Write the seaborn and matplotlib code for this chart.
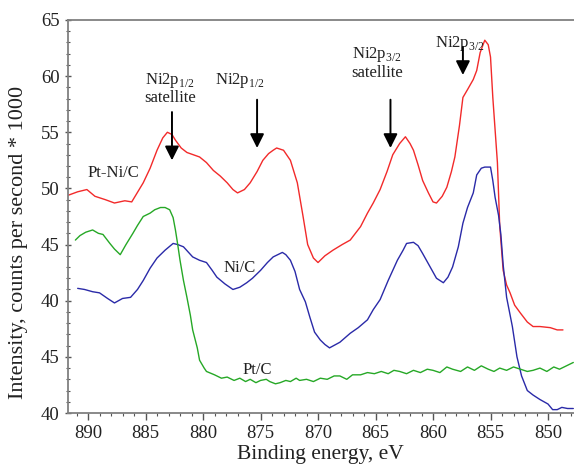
import matplotlib
matplotlib.use('Agg')
import matplotlib.pyplot as plt
import seaborn as sns
import pandas as pd
from matplotlib.ticker import MultipleLocator

# binding energy (eV) and intensity (plotted in the chart's stacked units)
ptni_ev = [891.7, 890.9, 890.1, 889.4, 888.5, 887.7, 886.8, 886.2, 885.2, 884.6, 884.0, 883.5,
           883.1, 882.7, 882.4, 881.9, 881.4, 880.3, 879.7, 879.1, 878.5, 877.9, 877.4, 877.0,
           876.4, 875.9, 875.3, 874.8, 874.3, 873.9, 873.6, 873.0, 872.4, 871.8, 871.3, 870.9,
           870.4, 870.0, 869.4, 868.7, 867.9, 867.2, 866.3, 865.7, 865.2, 864.6, 864.0, 863.5,
           862.9, 862.4, 862.0, 861.7, 861.3, 860.9, 860.4, 860.0, 859.7, 859.2, 858.8, 858.4,
           858.1, 857.7, 857.4, 857.0, 856.5, 856.2, 855.9, 855.5, 855.2, 855.0, 854.8, 854.4,
           854.2, 853.9, 853.6, 853.3, 852.9, 852.4, 851.8, 851.3, 850.7, 849.8, 849.2, 848.7]
ptni_int = [49.4, 49.7, 49.9, 49.3, 49.0, 48.7, 48.9, 48.8, 50.5, 51.8, 53.4, 54.5,
            55.0, 54.8, 54.3, 53.6, 53.2, 52.8, 52.3, 51.6, 51.1, 50.5, 49.9, 49.6,
            49.9, 50.5, 51.5, 52.5, 53.1, 53.4, 53.6, 53.4, 52.5, 50.5, 47.5, 45.0,
            43.8, 43.4, 44.0, 44.5, 45.0, 45.4, 46.6, 47.8, 48.7, 49.9, 51.5, 53.0,
            54.0, 54.6, 54.0, 53.4, 52.1, 50.7, 49.6, 48.8, 48.7, 49.3, 50.1, 51.5,
            52.8, 55.6, 58.1, 58.8, 59.7, 60.5, 62.1, 63.2, 62.8, 61.7, 58.1, 52.3,
            46.7, 42.7, 41.4, 40.7, 39.6, 38.9, 38.1, 37.7, 37.7, 37.6, 37.4, 37.4]

ni_ev = [890.9, 890.3, 889.6, 889.0, 888.3, 887.7, 887.0, 886.3, 885.7, 885.2, 884.6, 884.0,
         883.3, 882.6, 882.2, 881.7, 880.9, 880.3, 879.7, 879.2, 878.8, 878.1, 877.4, 876.8,
         876.2, 875.7, 875.0, 874.4, 873.9, 873.1, 872.8, 872.4, 872.0, 871.6, 871.1, 870.7,
         870.3, 869.8, 869.4, 869.0, 868.1, 867.2, 866.5, 865.7, 865.2, 864.6, 863.9, 863.1,
         862.6, 862.3, 861.7, 861.3, 860.9, 860.3, 859.7, 859.1, 858.7, 858.3, 857.8, 857.4,
         857.0, 856.5, 856.2, 855.8, 855.5, 855.0, 854.8, 854.6, 854.3, 854.1, 853.9, 853.6,
         853.1, 852.7, 852.3, 851.8, 851.3, 850.7, 850.0, 849.6, 849.2, 848.8, 848.3, 847.8]
ni_int = [41.1, 41.0, 40.8, 40.7, 40.2, 39.8, 40.2, 40.3, 41.0, 41.8, 42.9, 43.8,
          44.5, 45.1, 45.0, 44.8, 43.9, 43.6, 43.4, 42.7, 42.1, 41.5, 41.0, 41.2,
          41.6, 42.0, 42.7, 43.4, 43.9, 44.3, 44.1, 43.6, 42.6, 41.0, 39.9, 38.5,
          37.2, 36.5, 36.1, 35.8, 36.3, 37.1, 37.6, 38.3, 39.2, 40.1, 41.8, 43.6,
          44.5, 45.1, 45.2, 44.9, 44.2, 43.1, 42.0, 41.6, 42.1, 43.0, 44.8, 46.9,
          48.3, 49.6, 51.2, 51.8, 51.9, 51.9, 50.7, 49.2, 47.6, 45.9, 43.2, 40.3,
          37.7, 35.0, 33.3, 32.0, 31.6, 31.2, 30.8, 30.3, 30.3, 30.5, 30.4, 30.4]

pt_ev = [891.1, 890.7, 890.2, 889.6, 889.1, 888.7, 888.1, 887.7, 887.2, 886.7, 886.1, 885.7,
         885.2, 884.6, 884.2, 883.7, 883.3, 882.9, 882.6, 882.4, 882.2, 882.0, 881.7, 881.4,
         881.1, 880.9, 880.5, 880.3, 879.9, 879.7, 879.0, 878.4, 877.9, 877.3, 876.8, 876.3,
         875.9, 875.4, 875.0, 874.5, 874.2, 873.7, 873.3, 872.8, 872.4, 871.9, 871.6, 871.0,
         870.4, 869.8, 869.2, 868.6, 868.1, 867.5, 867.0, 866.3, 865.7, 865.1, 864.5, 863.9,
         863.4, 862.9, 862.3, 861.7, 861.1, 860.5, 860.0, 859.4, 858.8, 858.3, 857.6, 857.0,
         856.4, 855.8, 855.2, 854.7, 854.2, 853.6, 853.0, 852.4, 851.8, 851.3, 850.7, 850.1,
         849.5, 849.0, 848.4, 847.8]
pt_int = [45.4, 45.8, 46.1, 46.3, 46.0, 45.9, 45.1, 44.6, 44.1, 45.0, 46.0, 46.7,
          47.5, 47.8, 48.1, 48.3, 48.3, 48.1, 47.4, 46.3, 45.0, 43.6, 41.8, 40.3,
          38.7, 37.4, 35.8, 34.7, 34.0, 33.7, 33.4, 33.1, 33.2, 32.9, 33.1, 32.8,
          33.0, 32.7, 32.9, 33.0, 32.8, 32.6, 32.7, 32.9, 32.8, 33.1, 32.9, 33.0,
          32.8, 33.1, 33.0, 33.3, 33.3, 33.0, 33.4, 33.4, 33.6, 33.5, 33.7, 33.5,
          33.8, 33.7, 33.5, 33.8, 33.6, 33.9, 33.8, 33.6, 34.1, 33.9, 33.7, 34.1,
          33.8, 34.2, 33.9, 33.7, 34.0, 33.8, 34.1, 33.9, 33.7, 33.8, 34.0, 33.7,
          34.1, 33.9, 34.2, 34.5]

ytick_pos = [30, 35, 40, 45, 50, 55, 60, 65]
ytick_labels = ['40', '45', '40', '45', '50', '55', '60', '65']
xtick_pos = [890, 885, 880, 875, 870, 865, 860, 855, 850]

sns.set_theme(style='white')
plt.rcParams['font.family'] = ['Liberation Serif', 'DejaVu Serif']
plt.rcParams['mathtext.fontset'] = 'custom'
plt.rcParams['mathtext.rm'] = 'Liberation Serif'

fig = plt.figure(figsize=(5.74, 4.69), dpi=100)
ax = fig.add_axes([0.1185, 0.1194, 0.8815, 0.838])

series = [
    (ptni_ev, ptni_int, '#f22a2a'),
    (ni_ev, ni_int, '#2a2aa8'),
    (pt_ev, pt_int, '#26a826'),
]
for ev, inten, col in series:
    df = pd.DataFrame({'ev': ev, 'intensity': inten})
    sns.lineplot(data=df, x='ev', y='intensity', color=col, lw=1.0,
                 estimator=None, sort=False, ax=ax)

ax.set_xlim(891.74, 847.74)
ax.set_ylim(30, 65)
ax.set_xticks(xtick_pos)
ax.xaxis.set_minor_locator(MultipleLocator(1))
ax.set_yticks(ytick_pos)
ax.set_yticklabels(ytick_labels)
ax.yaxis.set_minor_locator(MultipleLocator(1))
ax.tick_params(axis='both', which='major', labelsize=13.5, colors='#222222')
ax.tick_params(axis='x', which='major', direction='out', length=5, width=1, color='#555555', bottom=True)
ax.tick_params(axis='x', which='minor', direction='out', length=2.5, width=0.8, color='#555555', bottom=True)
ax.tick_params(axis='y', which='major', direction='inout', length=5, width=1, color='#555555', left=True)
ax.tick_params(axis='y', which='minor', direction='inout', length=3, width=0.8, color='#555555', left=True)

for side in ['left', 'bottom', 'top']:
    ax.spines[side].set_color('#808080')
    ax.spines[side].set_linewidth(1.3)
ax.spines['right'].set_visible(False)

ax.set_xlabel('Binding energy, eV', fontsize=15.5, color='#222222')
ax.set_ylabel('Intensity, counts per second * 1000', fontsize=16, color='#222222')
ax.xaxis.set_label_coords(0.498, -0.082)
ax.yaxis.set_label_coords(-0.079, 0.433)

txt = dict(fontsize=12, ha='center', va='center', color='#222222')
ax.text(887.8, 51.4, 'Pt-Ni/C', **txt)
ax.text(876.8, 42.9, 'Ni/C', **txt)
ax.text(875.3, 33.8, 'Pt/C', **txt)
ax.text(882.9, 59.65, r'Ni2p$_{\mathrm{1/2}}$', **txt)
ax.text(882.9, 58.05, 'satellite', **txt)
ax.text(876.8, 59.65, r'Ni2p$_{\mathrm{1/2}}$', **txt)
ax.text(864.9, 61.9, r'Ni2p$_{\mathrm{3/2}}$', **txt)
ax.text(864.9, 60.3, 'satellite', **txt)
ax.text(857.7, 62.9, r'Ni2p$_{\mathrm{3/2}}$', **txt)

arrow = dict(arrowstyle='-|>,head_width=0.3,head_length=0.6', color='black', lw=1.4,
             mutation_scale=14, shrinkA=0, shrinkB=0)
for x0, y_from, y_to in [(882.7, 56.8, 52.5), (875.3, 57.9, 53.6),
                         (863.7, 57.9, 53.6), (857.4, 62.6, 60.1)]:
    ax.annotate('', xy=(x0, y_to), xytext=(x0, y_from), arrowprops=arrow)

fig.savefig('out.png', dpi=100)
